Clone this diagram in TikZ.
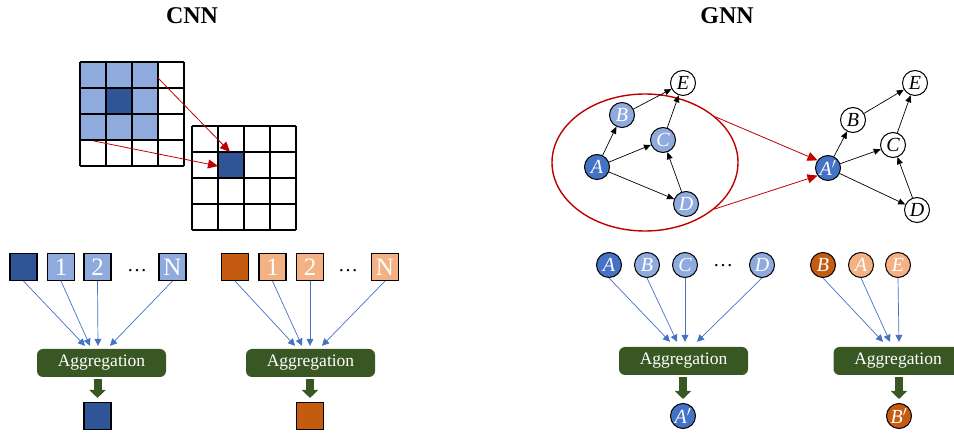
\documentclass[tikz,border=0pt]{standalone}
\usepackage{fontspec}
\setmainfont{Liberation Serif}
\usetikzlibrary{arrows.meta,shapes.geometric,calc}
\definecolor{dblue}{HTML}{2F5597}
\definecolor{lblue}{HTML}{8FAADC}
\definecolor{mblue}{HTML}{4472C4}
\definecolor{dorange}{HTML}{C55A11}
\definecolor{lorange}{HTML}{F4B183}
\definecolor{dgreen}{HTML}{385723}
\definecolor{dred}{HTML}{C00000}
\begin{document}
\begin{tikzpicture}[x=1pt,y=-1pt,
  sq/.style={draw=black, line width=1.1pt, minimum size=27pt, inner sep=0pt, text=white, font=\fontsize{25}{25}\selectfont},
  gn/.style={circle, draw=black, line width=1pt, minimum size=25pt, inner sep=0pt, font=\fontsize{20}{20}\selectfont\itshape},
  agg/.style={fill=dgreen, rounded corners=6pt, minimum width=129pt, minimum height=28pt, inner sep=0pt, text=white, font=\fontsize{17.5}{17.5}\selectfont},
  barrow/.style={draw=mblue, line width=0.7pt, -{Triangle[width=7pt,length=7pt]}},
  karrow/.style={draw=black, line width=0.7pt, -{Triangle[width=6pt,length=7pt]}},
  rarrow/.style={draw=dred, line width=0.8pt, -{Triangle[width=9pt,length=10pt]}},
  bigarrow/.style={draw=dgreen, line width=8pt, -{Triangle[width=16pt,length=8pt]}, shorten <=2pt, shorten >=4pt},
  gridline/.style={line width=1.4pt, black},
  dots/.style={font=\fontsize{20}{20}\selectfont, inner sep=0pt, anchor=base},
  title/.style={font=\fontsize{24}{24}\selectfont\bfseries}
]
\useasboundingbox (0,0) rectangle (954,435);

% titles
\node[title] (tcnn) at (192,16) {CNN};
\node[title] (tgnn) at (727,16) {GNN};

% CNN grid 1
\fill[lblue] (80,62) rectangle (158,140);
\fill[dblue] (106,88) rectangle (132,114);
\foreach \i in {0,...,4} {
  \draw[gridline] ({80+26*\i},62) -- ({80+26*\i},166);
  \draw[gridline] (80,{62+26*\i}) -- (184,{62+26*\i});
}
% CNN grid 2
\fill[dblue] (218,152) rectangle (244,178);
\foreach \i in {0,...,4} {
  \draw[gridline] ({192+26*\i},126) -- ({192+26*\i},230);
  \draw[gridline] (192,{126+26*\i}) -- (296,{126+26*\i});
}
\coordinate (c1a) at (158,78);
\coordinate (c1b) at (230,152);
\coordinate (c2a) at (94,141);
\coordinate (c2b) at (218,166);
\draw[rarrow] (c1a) -- (c1b);
\draw[rarrow] (c2a) -- (c2b);

% CNN bottom, blue group
\node[sq, fill=dblue] (s0) at (23.5,267) {};
\node[sq, fill=lblue] (s1) at (61,267) {1};
\node[sq, fill=lblue] (s2) at (97.5,267) {2};
\node[dots] (sd) at (137,272) {…};
\node[sq, fill=lblue] (sN) at (172.5,267) {N};
\node[agg] (agg1) at (101.5,363) {Aggregation};
\draw[barrow] (s0.south) -- ($(agg1.north)+(-16.5,-3)$);
\draw[barrow] (s1.south) -- ($(agg1.north)+(-11.5,-3)$);
\draw[barrow] (s2.south) -- ($(agg1.north)+(-3.5,-3)$);
\draw[barrow] (sN.south) -- ($(agg1.north)+(8.5,-3)$);
\node[sq, fill=dblue] (out1) at (97.5,416) {};
\draw[bigarrow] (out1 |- agg1.south) -- (out1.north);

% CNN bottom, orange group
\node[sq, fill=dorange] (r0) at (235,267) {};
\node[sq, fill=lorange] (r1) at (272.5,267) {1};
\node[sq, fill=lorange] (r2) at (310,267) {2};
\node[dots] (rd) at (348,272) {…};
\node[sq, fill=lorange] (rN) at (385,267) {N};
\node[agg] (agg2) at (310.5,363) {Aggregation};
\draw[barrow] (r0.south) -- ($(agg2.north)+(-15.5,-3)$);
\draw[barrow] (r1.south) -- ($(agg2.north)+(-8.5,-3)$);
\draw[barrow] (r2.south) -- ($(agg2.north)+(-0.5,-3)$);
\draw[barrow] (rN.south) -- ($(agg2.north)+(11.5,-3)$);
\node[sq, fill=dorange] (out2) at (310,416) {};
\draw[bigarrow] (out2 |- agg2.south) -- (out2.north);

% GNN left graph
\node[draw=dred, line width=1.4pt, ellipse, minimum width=186pt, minimum height=137pt, inner sep=0pt] (ell) at (645,162.5) {};
\node[gn, fill=white] (E) at (683,83) {E};
\node[gn, fill=lblue, text=white] (B) at (622,115) {B};
\node[gn, fill=lblue, text=white] (C) at (663,140) {C};
\node[gn, fill=mblue, text=white] (A) at (597,167) {A};
\node[gn, fill=lblue, text=white] (D) at (686,204) {D};
\draw[karrow] (A) -- (B);
\draw[karrow] (A) -- (C);
\draw[karrow] (A) -- (D);
\draw[karrow] (B) -- (E);
\draw[karrow] (C) -- (E);
\draw[karrow] (D) -- (C);

% GNN right graph
\node[gn, fill=mblue, text=white] (A2) at (828,168) {A$'$};
\node[gn, fill=white] (B2) at (853,120) {B};
\node[gn, fill=white] (C2) at (893,145) {C};
\node[gn, fill=white] (E2) at (915,83) {E};
\node[gn, fill=white] (D2) at (917,210) {D};
\draw[karrow] (A2) -- (B2);
\draw[karrow] (A2) -- (C2);
\draw[karrow] (A2) -- (D2);
\draw[karrow] (B2) -- (E2);
\draw[karrow] (C2) -- (E2);
\draw[karrow] (D2) -- (C2);
\draw[rarrow] (ell.33) -- (A2.144);
\draw[rarrow] (ell.-34) -- (A2.216);

% GNN bottom, blue group
\node[gn, fill=mblue, text=white] (gA) at (609,265) {A};
\node[gn, fill=lblue, text=white] (gB) at (647,265) {B};
\node[gn, fill=lblue, text=white] (gC) at (685,265) {C};
\node[dots] (gd) at (723,267) {…};
\node[gn, fill=lblue, text=white] (gD) at (762,265) {D};
\node[agg] (agg3) at (683.5,361) {Aggregation};
\draw[barrow] (gA.south) -- ($(agg3.north)+(-13.5,-5)$);
\draw[barrow] (gB.south) -- ($(agg3.north)+(-6.5,-5)$);
\draw[barrow] (gC.south) -- ($(agg3.north)+(1.5,-5)$);
\draw[barrow] (gD.south) -- ($(agg3.north)+(13.5,-5)$);
\node[gn, fill=mblue, text=white] (gO) at (683,416) {A$'$};
\draw[bigarrow] (gO |- agg3.south) -- (gO.north);

% GNN bottom, orange group
\node[gn, fill=dorange, text=white] (oB) at (823,265) {B};
\node[gn, fill=lorange, text=white] (oA) at (861,265) {A};
\node[gn, fill=lorange, text=white] (oE) at (898,265) {E};
\node[agg] (agg4) at (898,361) {Aggregation};
\draw[barrow] (oB.south) -- ($(agg4.north)+(-15,-5)$);
\draw[barrow] (oA.south) -- ($(agg4.north)+(-8,-5)$);
\draw[barrow] (oE.south) -- ($(agg4.north)+(1,-5)$);
\node[gn, fill=dorange, text=white] (oO) at (899,416) {B$'$};
\draw[bigarrow] (oO |- agg4.south) -- (oO.north);
\end{tikzpicture}
\end{document}
